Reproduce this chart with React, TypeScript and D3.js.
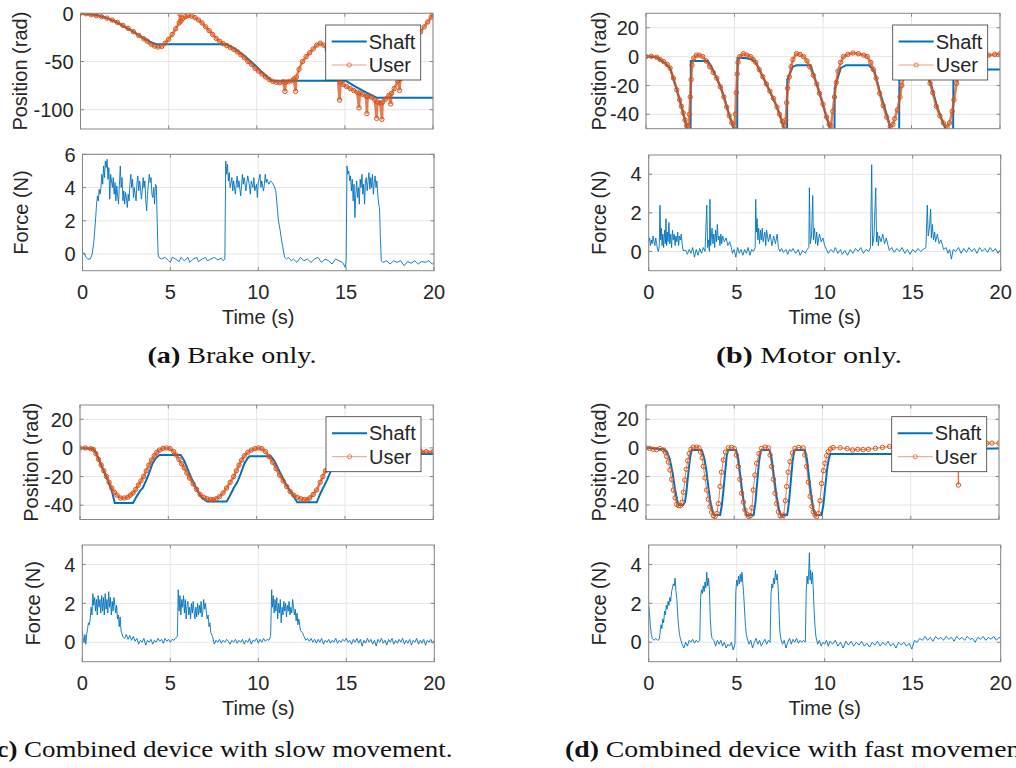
import React from 'react';
import * as d3 from 'd3';

type Pt = [number, number];

// ---- data ----
const TIME_TICKS = [0, 5, 10, 15, 20];
const POS_TICKS_A = [-100, -50, 0];
const POS_TICKS = [-40, -20, 0, 20];
const FORCE_TICKS_A = [0, 2, 4, 6];
const FORCE_TICKS = [0, 2, 4];
const LEGEND_LABELS = ['Shaft', 'User'];
const CAPTION_TAGS = ['(a)', '(b)', '(c)', '(d)'];
const CAPTION_TEXTS = [
  'Brake only.',
  'Motor only.',
  'Combined device with slow movement.',
  'Combined device with fast movement.',
];

// (a) Brake only
const posShaftA: Pt[] = [[0,0],[0.5,-1],[1,-2],[1.5,-5],[2,-9],[2.5,-14],[3,-19],[3.5,-25],[4,-30],[4.3,-32],[8.3,-32],[8.8,-37],[9.3,-44],[9.8,-52],[10.3,-61],[10.85,-70],[15.05,-70],[15.6,-76],[16.2,-82],[16.8,-87.5],[20,-87.5]];
const posUserA: Pt[] = [[0,0],[0.3,-0.5],[0.6,-1.5],[0.9,-2.5],[1.2,-3.5],[1.5,-5],[1.8,-7],[2.1,-9.5],[2.4,-12.5],[2.7,-15.5],[3.0,-19],[3.3,-23],[3.6,-26.5],[3.8,-29],[4.0,-32],[4.2,-34],[4.4,-35],[4.6,-34.5],[4.8,-31],[5.0,-27],[5.2,-22],[5.4,-16],[5.6,-10],[5.65,-1],[5.7,-8],[5.8,-5.5],[5.95,-3.5],[6.1,-2.5],[6.3,-3],[6.5,-4.5],[6.7,-7],[6.9,-10],[7.1,-14],[7.3,-18],[7.5,-22],[7.7,-26],[7.9,-29],[8.1,-31.5],[8.3,-33.5],[8.5,-35.5],[8.7,-37.5],[8.9,-40],[9.1,-43],[9.3,-46],[9.5,-50],[9.7,-53],[9.9,-57],[10.1,-60],[10.3,-63],[10.5,-66],[10.7,-68.5],[10.9,-70.5],[11.1,-71.5],[11.3,-72],[11.5,-71],[11.6,-81],[11.65,-71.5],[11.8,-71],[12.0,-70],[12.1,-68],[12.2,-81],[12.25,-66],[12.4,-58],[12.6,-50],[12.8,-45],[13.0,-41],[13.2,-37],[13.4,-33],[13.6,-31],[13.8,-33],[14.0,-38],[14.2,-48],[14.4,-58],[14.6,-67],[14.7,-90],[14.75,-71],[14.9,-74],[15.1,-76],[15.3,-78],[15.5,-80],[15.7,-82],[15.8,-98],[15.85,-83],[16.0,-84],[16.2,-86],[16.25,-104],[16.3,-86],[16.5,-87],[16.7,-90],[16.8,-109],[16.85,-92],[17.0,-93],[17.1,-110],[17.15,-92],[17.3,-89],[17.5,-85],[17.6,-94],[17.65,-83],[17.8,-78],[18.0,-70],[18.1,-80],[18.15,-68],[18.3,-60],[18.5,-50],[18.7,-41],[18.9,-32],[19.1,-25],[19.3,-19],[19.5,-14],[19.7,-9],[19.9,-4],[20,-2]];
const forceA: Pt[] = [[0,0.1],[0.1,0.05],[0.2,-0.2],[0.3,-0.3],[0.45,-0.3],[0.55,0],[0.65,0.8],[0.75,2.2],[0.8,3.0],[0.85,3.5],[0.9,3.2],[0.95,3.9],[1.0,3.6],[1.05,4.0],[1.1,4.8],[1.15,4.2],[1.2,5.3],[1.25,4.6],[1.3,5.6],[1.35,5.2],[1.4,5.7],[1.45,4.5],[1.5,5.2],[1.55,3.3],[1.6,4.8],[1.7,4.0],[1.75,4.6],[1.8,3.6],[1.85,4.3],[1.9,3.2],[1.95,4.1],[2.0,3.5],[2.05,3.0],[2.1,4.2],[2.15,5.3],[2.2,4.0],[2.25,4.6],[2.3,3.2],[2.35,3.8],[2.4,3.0],[2.45,3.7],[2.5,3.4],[2.55,2.8],[2.6,3.6],[2.65,3.2],[2.7,4.2],[2.75,4.8],[2.8,4.0],[2.85,4.5],[2.9,3.4],[2.95,4.0],[3.0,3.6],[3.05,3.2],[3.1,4.3],[3.15,4.7],[3.2,3.8],[3.25,4.4],[3.3,4.0],[3.35,3.3],[3.4,3.8],[3.45,4.6],[3.5,4.0],[3.55,4.4],[3.6,3.2],[3.65,2.6],[3.7,3.6],[3.75,4.2],[3.8,4.8],[3.85,4.3],[3.9,4.6],[3.95,3.6],[4.0,3.4],[4.05,4.0],[4.1,3.0],[4.15,4.2],[4.2,4.1],[4.25,2.0],[4.3,0.0],[4.35,-0.2],[4.5,-0.3],[4.7,-0.2],[4.9,-0.4],[5.0,-0.5],[5.1,-0.2],[5.3,-0.3],[5.5,-0.45],[5.6,-0.2],[5.8,-0.4],[6.0,-0.2],[6.1,-0.5],[6.3,-0.3],[6.5,-0.2],[6.6,-0.45],[6.8,-0.3],[7.0,-0.2],[7.1,-0.4],[7.3,-0.3],[7.5,-0.2],[7.7,-0.35],[7.9,-0.25],[8.0,-0.4],[8.1,-0.3],[8.15,5.6],[8.2,4.8],[8.25,5.4],[8.3,4.4],[8.35,4.9],[8.4,4.0],[8.5,4.6],[8.55,3.8],[8.6,4.4],[8.7,3.6],[8.75,4.2],[8.8,4.7],[8.85,4.0],[8.9,4.4],[9.0,3.5],[9.05,4.1],[9.1,4.8],[9.15,4.2],[9.2,4.6],[9.3,3.8],[9.35,4.3],[9.4,4.7],[9.5,4.1],[9.55,3.6],[9.6,4.4],[9.7,4.0],[9.75,4.6],[9.8,3.8],[9.9,4.2],[9.95,3.4],[10.0,4.3],[10.1,4.8],[10.15,4.0],[10.2,4.4],[10.3,3.8],[10.35,4.2],[10.4,4.8],[10.45,4.3],[10.5,4.5],[10.6,4.2],[10.7,4.4],[10.8,4.3],[10.9,4.1],[11.0,3.8],[11.05,3.2],[11.1,2.6],[11.15,2.0],[11.25,1.4],[11.3,1.0],[11.4,0.4],[11.5,-0.2],[11.6,-0.3],[11.7,-0.2],[11.9,-0.4],[12.0,-0.3],[12.2,-0.5],[12.4,-0.2],[12.6,-0.4],[12.8,-0.3],[13.0,-0.5],[13.2,-0.3],[13.4,-0.2],[13.6,-0.5],[13.8,-0.3],[14.0,-0.4],[14.2,-0.6],[14.4,-0.3],[14.6,-0.4],[14.8,-0.5],[14.95,-0.8],[15.0,-0.4],[15.05,5.3],[15.1,4.8],[15.15,5.0],[15.2,4.4],[15.25,4.7],[15.3,3.8],[15.35,4.5],[15.4,3.2],[15.45,4.2],[15.5,2.2],[15.55,3.6],[15.6,4.4],[15.65,3.4],[15.7,4.0],[15.75,3.0],[15.8,4.5],[15.85,4.0],[15.9,4.8],[15.95,3.6],[16.0,4.2],[16.05,3.0],[16.1,4.4],[16.15,4.6],[16.2,3.8],[16.25,4.4],[16.3,4.9],[16.35,3.9],[16.4,4.6],[16.45,4.0],[16.5,4.8],[16.55,3.6],[16.6,4.3],[16.65,4.7],[16.7,4.0],[16.75,4.4],[16.8,3.6],[16.85,3.0],[16.9,2.8],[16.95,1.0],[17.0,-0.4],[17.1,-0.5],[17.3,-0.4],[17.5,-0.6],[17.7,-0.4],[17.9,-0.5],[18.1,-0.4],[18.3,-0.7],[18.5,-0.45],[18.7,-0.55],[18.9,-0.4],[19.1,-0.6],[19.3,-0.45],[19.5,-0.5],[19.7,-0.4],[19.9,-0.6],[20,-0.5]];

// (b) Motor only
const posShaftB: Pt[] = [[0,0],[0.6,-0.5],[1.0,-4],[1.36,-8],[1.74,-23],[2.1,-39],[2.35,-52],[2.52,-55],[2.53,-3],[3.5,-3],[3.7,-7],[4.0,-15],[4.25,-22],[4.6,-36],[4.9,-48],[5.0,-55],[5.15,-55],[5.17,-1],[5.6,-1],[6.0,-2],[6.2,-4],[6.8,-19],[7.4,-35],[7.8,-50],[7.95,-55],[7.97,-55],[7.98,-16],[8.3,-7],[8.5,-6],[9.3,-6],[9.8,-25],[10.2,-42],[10.5,-55],[10.65,-55],[10.66,-22],[11.0,-8],[11.3,-6],[12.6,-6],[12.9,-10],[13.25,-26],[13.65,-42],[13.9,-55],[14.3,-55],[14.32,-5],[15.6,-5],[16.1,-19],[16.45,-35],[16.85,-48],[17.1,-55],[17.35,-55],[17.37,-9],[20,-9]];
const posUserB: Pt[] = [[0,0],[0.3,0.2],[0.6,-0.5],[0.8,-2],[1.0,-3.5],[1.2,-5.5],[1.36,-8],[1.55,-15],[1.74,-23],[1.9,-30],[2.0,-34.5],[2.1,-39],[2.2,-44],[2.3,-48],[2.4,-48],[2.45,-40],[2.5,-28],[2.55,-16],[2.6,-6],[2.7,-1],[2.85,1],[3.0,1],[3.2,0],[3.4,-3],[3.6,-7],[3.8,-11],[4.0,-15],[4.2,-21],[4.4,-28],[4.56,-35],[4.7,-41],[4.85,-46],[5.0,-48],[5.05,-40],[5.1,-25],[5.15,-12],[5.2,-4],[5.3,0],[5.5,2],[5.7,1],[5.9,0],[6.05,-2],[6.2,-4],[6.4,-9],[6.6,-14],[6.8,-19],[7.0,-24],[7.2,-29],[7.4,-35],[7.55,-40],[7.7,-45],[7.8,-48],[7.9,-44],[7.95,-32],[8.0,-22],[8.1,-14],[8.2,-7],[8.3,-2],[8.5,2],[8.7,1.5],[8.9,0],[9.1,-3],[9.25,-7],[9.45,-13],[9.65,-19],[9.8,-25.5],[10.0,-33],[10.2,-42],[10.35,-47],[10.45,-48],[10.55,-38],[10.65,-28],[10.75,-18],[10.85,-10],[11.0,-4],[11.15,0],[11.4,1.5],[11.7,2.5],[12.0,2],[12.3,1],[12.5,0],[12.7,-4],[12.85,-9],[13.0,-15],[13.2,-25.5],[13.4,-34],[13.6,-42],[13.8,-48.5],[13.95,-47],[14.05,-43],[14.2,-37],[14.35,-28],[14.45,-20],[14.6,-12],[14.8,-4],[15.0,0],[15.3,1],[15.6,-2],[15.8,-8],[15.95,-14],[16.05,-18.5],[16.2,-25],[16.4,-34.5],[16.6,-41],[16.8,-46],[17.0,-49],[17.15,-46],[17.3,-38],[17.4,-30],[17.55,-18.5],[17.7,-7],[17.85,-2],[18.1,0],[18.6,0.5],[19.0,1],[19.35,1],[19.7,1.5],[20,2]];
const forceB: Pt[] = [[0,0.5],[0.05,0.7],[0.1,0.3],[0.15,0.6],[0.2,0.4],[0.25,0.8],[0.3,0.5],[0.35,0.3],[0.4,0.7],[0.45,0.4],[0.5,0.1],[0.55,0.0],[0.6,0.3],[0.64,2.4],[0.68,0.6],[0.72,1.2],[0.76,0.3],[0.8,0.9],[0.85,0.2],[0.9,1.1],[0.95,0.4],[0.98,1.7],[1.02,0.3],[1.06,1.0],[1.1,0.5],[1.15,1.5],[1.2,0.4],[1.25,0.9],[1.3,0.2],[1.35,1.1],[1.4,0.6],[1.45,0.9],[1.5,0.3],[1.55,0.8],[1.6,0.5],[1.65,1.0],[1.7,0.3],[1.75,0.8],[1.8,0.6],[1.85,0.9],[1.9,0.4],[1.95,0.05],[2.1,0.05],[2.2,-0.15],[2.3,0.1],[2.4,-0.1],[2.5,0.2],[2.6,-0.3],[2.7,0.1],[2.8,-0.2],[2.9,0.15],[3.0,-0.1],[3.1,0.2],[3.2,0.0],[3.3,2.4],[3.35,0.2],[3.4,0.6],[3.45,0.0],[3.48,2.7],[3.52,0.3],[3.6,1.2],[3.65,0.4],[3.7,0.9],[3.75,0.2],[3.8,1.1],[3.85,0.5],[3.9,1.4],[3.95,0.6],[4.0,0.8],[4.05,0.3],[4.1,0.9],[4.15,0.4],[4.2,0.8],[4.3,0.5],[4.4,0.7],[4.5,0.3],[4.6,0.5],[4.7,0.2],[4.75,-0.1],[4.85,0.1],[4.95,-0.3],[5.05,0.2],[5.15,-0.1],[5.25,0.1],[5.35,-0.2],[5.45,0.1],[5.55,-0.1],[5.65,0.2],[5.75,-0.2],[5.85,0.1],[5.95,0.0],[6.05,0.2],[6.08,2.7],[6.12,1.0],[6.16,1.7],[6.2,0.6],[6.25,1.2],[6.3,0.4],[6.35,1.1],[6.4,0.6],[6.45,1.2],[6.5,0.5],[6.6,1.0],[6.65,0.3],[6.7,1.1],[6.8,0.5],[6.9,0.9],[7.0,0.3],[7.1,0.8],[7.2,0.4],[7.3,0.9],[7.37,0.2],[7.45,0.0],[7.55,0.15],[7.65,-0.05],[7.8,0.1],[7.9,-0.15],[8.0,0.1],[8.1,0.0],[8.2,0.15],[8.35,-0.1],[8.5,0.1],[8.6,-0.2],[8.75,0.05],[8.9,-0.1],[9.0,0.1],[9.1,0.2],[9.13,3.3],[9.18,0.4],[9.25,0.8],[9.32,2.9],[9.36,0.6],[9.42,1.2],[9.48,0.4],[9.55,1.0],[9.6,0.3],[9.7,0.9],[9.8,0.5],[9.9,0.7],[10.0,0.3],[10.1,0.1],[10.2,-0.1],[10.35,0.1],[10.5,-0.05],[10.6,0.2],[10.75,-0.1],[10.9,0.1],[11.0,-0.15],[11.15,0.05],[11.3,-0.2],[11.45,0.1],[11.6,-0.1],[11.75,0.15],[11.9,0.0],[12.05,0.2],[12.2,-0.1],[12.35,0.1],[12.5,0.0],[12.6,0.2],[12.67,4.5],[12.72,0.3],[12.8,0.8],[12.9,3.3],[12.95,0.5],[13.0,1.0],[13.05,0.3],[13.1,0.8],[13.2,0.5],[13.3,0.9],[13.4,0.4],[13.5,0.7],[13.6,0.3],[13.67,0.05],[13.8,0.2],[13.95,-0.05],[14.1,0.15],[14.25,0.0],[14.4,0.2],[14.55,-0.1],[14.7,0.1],[14.85,-0.15],[15.0,0.1],[15.15,-0.05],[15.3,0.15],[15.45,0.0],[15.6,0.1],[15.75,0.2],[15.83,2.4],[15.88,0.8],[15.95,1.2],[16.02,2.2],[16.06,0.7],[16.12,1.4],[16.18,0.6],[16.25,1.0],[16.3,0.5],[16.4,0.9],[16.5,0.4],[16.6,0.6],[16.7,0.3],[16.75,0.1],[16.9,0.2],[17.0,-0.1],[17.1,0.1],[17.2,-0.4],[17.3,0.1],[17.45,0.0],[17.6,0.2],[17.75,-0.1],[17.9,0.15],[18.05,-0.05],[18.2,0.2],[18.35,0.0],[18.5,0.15],[18.65,-0.1],[18.8,0.2],[18.95,0.0],[19.1,0.15],[19.25,-0.05],[19.4,0.2],[19.55,0.0],[19.7,0.15],[19.85,-0.1],[20,0.1]];

// (c) Combined, slow movement
const posShaftC: Pt[] = [[0,0],[0.75,-0.5],[0.9,-3],[1.2,-12],[1.5,-20.5],[1.8,-30],[1.97,-38.5],[3.0,-38.5],[3.2,-34],[3.4,-30],[3.55,-28],[3.7,-24],[3.9,-18],[4.1,-11],[4.3,-7],[4.5,-4.9],[5.7,-4.9],[5.9,-9],[6.1,-15],[6.3,-21],[6.5,-26],[6.7,-31],[6.9,-35],[7.2,-37.5],[8.3,-37.5],[8.5,-33],[8.7,-28],[8.9,-24],[9.1,-18],[9.3,-11],[9.5,-7],[9.6,-5.8],[10.8,-5.8],[11.0,-9],[11.2,-14],[11.4,-19],[11.6,-24],[11.8,-28],[12.0,-32],[12.3,-38],[13.4,-38],[13.6,-32],[13.8,-27],[14.0,-22],[14.2,-16],[14.4,-11],[14.6,-7],[14.9,-4.2],[20,-4.2]];
const posUserC: Pt[] = [[0,0],[0.3,0],[0.6,-0.5],[0.75,-1],[0.9,-4],[1.05,-8],[1.2,-12],[1.35,-16],[1.5,-20],[1.65,-24],[1.8,-28],[1.95,-31],[2.1,-33],[2.3,-35],[2.5,-35],[2.7,-34.5],[2.85,-33],[3.0,-31.5],[3.15,-29],[3.3,-26],[3.45,-23],[3.6,-20],[3.75,-16],[3.9,-12],[4.05,-8.5],[4.2,-5.5],[4.35,-3],[4.5,-1.5],[4.7,-0.3],[4.9,0],[5.1,-0.5],[5.3,-2.5],[5.45,-5],[5.6,-8],[5.75,-11],[5.9,-14],[6.05,-17.5],[6.2,-21],[6.4,-25],[6.6,-29],[6.8,-32.5],[7.0,-34.5],[7.2,-35.5],[7.4,-36],[7.55,-36.3],[7.7,-35.5],[7.9,-34],[8.1,-31.5],[8.3,-28],[8.5,-24],[8.7,-20],[8.85,-16],[9.0,-12],[9.15,-8.5],[9.3,-5.5],[9.5,-3],[9.7,-1.5],[9.9,-0.5],[10.1,0],[10.3,-0.5],[10.5,-2.5],[10.7,-6],[10.9,-10],[11.1,-14.5],[11.3,-19],[11.5,-23],[11.7,-27],[11.9,-30.5],[12.1,-33],[12.3,-34.5],[12.5,-35.5],[12.7,-36],[12.85,-36.3],[13.0,-35],[13.2,-32.5],[13.4,-29.4],[13.6,-24],[13.75,-20],[13.9,-16],[14.1,-11],[14.3,-7],[14.5,-4.5],[14.8,-3],[15.2,-2.5],[16,-2.5],[17,-2.8],[18,-2.5],[19,-2.8],[19.3,-2.6],[19.6,-2.6],[20,-2.6]];
const forceC: Pt[] = [[0,0.6],[0.05,0.2],[0.1,0.0],[0.15,0.4],[0.2,-0.1],[0.25,0.4],[0.3,0.7],[0.35,1.0],[0.4,0.9],[0.45,1.2],[0.5,1.8],[0.55,1.4],[0.6,2.5],[0.65,1.9],[0.7,2.3],[0.75,1.6],[0.8,2.2],[0.85,1.4],[0.9,2.4],[0.95,1.8],[1.0,2.2],[1.05,1.5],[1.1,2.4],[1.15,1.6],[1.2,2.3],[1.25,1.4],[1.3,2.5],[1.35,1.7],[1.4,2.2],[1.45,1.5],[1.5,2.6],[1.55,1.8],[1.6,2.3],[1.65,1.4],[1.7,2.1],[1.75,1.6],[1.8,2.3],[1.85,1.9],[1.9,1.5],[1.95,1.9],[2.0,1.2],[2.05,1.4],[2.1,0.8],[2.15,1.3],[2.2,0.6],[2.3,0.3],[2.4,0.2],[2.5,0.4],[2.6,0.15],[2.7,0.35],[2.8,0.1],[2.9,0.3],[3.0,0.05],[3.1,0.2],[3.2,-0.1],[3.3,0.1],[3.4,0.0],[3.5,0.2],[3.6,-0.15],[3.7,0.1],[3.8,0.0],[3.9,0.15],[4.0,-0.1],[4.1,0.1],[4.2,0.0],[4.3,0.2],[4.4,0.05],[4.5,0.15],[4.6,-0.05],[4.7,0.2],[4.8,0.05],[4.9,0.15],[5.0,0.0],[5.1,0.15],[5.2,0.1],[5.3,0.2],[5.4,0.3],[5.45,2.7],[5.5,1.6],[5.55,2.4],[5.6,1.4],[5.65,2.2],[5.7,1.8],[5.75,2.4],[5.8,1.5],[5.85,2.2],[5.9,1.2],[5.95,1.9],[6.0,2.1],[6.05,1.4],[6.1,1.8],[6.15,1.2],[6.2,2.0],[6.25,1.5],[6.3,2.1],[6.35,1.6],[6.4,1.2],[6.45,1.8],[6.5,1.3],[6.55,2.0],[6.6,1.4],[6.65,1.9],[6.7,1.5],[6.75,2.1],[6.8,1.3],[6.85,1.6],[6.9,2.2],[6.95,1.7],[7.0,2.0],[7.05,1.5],[7.1,1.2],[7.15,1.4],[7.2,0.8],[7.25,1.0],[7.3,0.5],[7.4,0.3],[7.5,-0.1],[7.6,0.1],[7.7,0.0],[7.8,0.15],[7.9,-0.05],[8.0,0.1],[8.1,0.0],[8.2,0.15],[8.3,0.05],[8.4,-0.1],[8.5,0.1],[8.6,0.0],[8.7,0.15],[8.8,-0.05],[8.9,0.1],[9.0,0.0],[9.1,0.15],[9.2,-0.1],[9.3,0.1],[9.4,0.0],[9.5,0.2],[9.6,-0.1],[9.7,0.1],[9.8,0.05],[9.9,0.2],[10.0,-0.05],[10.1,0.15],[10.2,0.0],[10.3,0.2],[10.4,0.05],[10.5,0.15],[10.6,0.1],[10.7,0.3],[10.76,2.7],[10.8,1.8],[10.85,2.4],[10.9,1.5],[10.95,2.2],[11.0,1.6],[11.05,2.3],[11.1,1.2],[11.15,2.0],[11.2,1.5],[11.25,2.2],[11.3,1.0],[11.35,1.8],[11.4,1.4],[11.45,2.1],[11.5,1.6],[11.55,2.0],[11.6,1.3],[11.65,1.9],[11.7,1.6],[11.75,2.1],[11.8,1.4],[11.85,1.8],[11.9,1.5],[11.95,2.2],[12.0,1.8],[12.05,1.4],[12.1,1.7],[12.15,1.1],[12.2,1.5],[12.25,0.9],[12.3,1.2],[12.4,0.6],[12.5,0.5],[12.6,0.3],[12.7,0.1],[12.8,0.2],[12.9,0.05],[13.0,0.2],[13.1,0.0],[13.2,0.15],[13.3,-0.05],[13.4,0.15],[13.5,0.0],[13.6,0.2],[13.7,-0.1],[13.8,0.1],[13.9,0.0],[14.0,0.15],[14.1,-0.05],[14.2,0.1],[14.3,0.0],[14.4,0.2],[14.5,-0.05],[14.6,0.1],[14.7,0.0],[14.8,0.15],[14.9,0.05],[15.0,0.2],[15.1,0.0],[15.2,0.1],[15.3,-0.1],[15.4,0.15],[15.5,0.0],[15.6,0.2],[15.7,-0.05],[15.8,0.15],[15.9,-0.2],[16.0,0.1],[16.1,-0.05],[16.2,0.2],[16.3,0.0],[16.4,0.15],[16.5,-0.1],[16.6,0.1],[16.7,-0.2],[16.8,0.15],[16.9,0.0],[17.0,0.2],[17.1,-0.05],[17.2,0.1],[17.3,-0.15],[17.4,0.15],[17.5,0.0],[17.6,0.2],[17.7,-0.1],[17.8,0.1],[17.9,-0.05],[18.0,0.15],[18.1,0.0],[18.2,0.2],[18.3,-0.1],[18.4,0.1],[18.5,-0.05],[18.6,0.15],[18.7,-0.15],[18.8,0.1],[18.9,0.0],[19.0,0.2],[19.1,-0.1],[19.2,0.1],[19.3,-0.05],[19.4,0.15],[19.5,-0.15],[19.6,0.1],[19.7,0.0],[19.8,0.15],[19.9,-0.05],[20,0.1]];

// (d) Combined, fast movement
const posShaftD: Pt[] = [[0,0],[0.5,-0.5],[1.0,-1],[1.2,-3],[1.35,-8],[1.5,-17],[1.62,-27],[1.75,-36],[1.85,-40],[2.1,-40],[2.2,-38],[2.28,-32],[2.36,-22],[2.45,-12],[2.52,-5],[2.6,-1.5],[3.15,-1.5],[3.3,-7],[3.42,-16],[3.55,-29],[3.68,-40],[3.8,-46],[3.9,-47],[4.2,-47],[4.3,-40],[4.4,-28],[4.5,-15],[4.58,-5],[4.66,-1.5],[5.1,-1.5],[5.22,-7],[5.35,-20],[5.48,-33],[5.6,-43],[5.7,-47],[6.1,-47],[6.2,-38],[6.3,-24],[6.4,-10],[6.5,-2],[6.6,-1.5],[7.0,-1.5],[7.1,-6],[7.25,-20],[7.4,-34],[7.55,-44],[7.65,-47],[8.0,-47],[8.1,-38],[8.2,-24],[8.3,-10],[8.4,-2],[8.5,-1.5],[9.0,-1.5],[9.12,-8],[9.25,-22],[9.38,-35],[9.5,-44],[9.6,-47],[9.95,-47],[10.05,-40],[10.15,-28],[10.25,-16],[10.35,-8],[10.45,-4.3],[14.5,-4.3],[15.0,-1],[20,-0.5]];
const posUserD: Pt[] = [[0,0],[0.2,-0.3],[0.4,-1],[0.6,-1.2],[0.8,-0.5],[1.0,-1.5],[1.1,-3],[1.17,-6],[1.27,-10],[1.36,-15.5],[1.45,-22],[1.55,-29.5],[1.65,-35],[1.74,-39.5],[1.85,-40.5],[1.95,-40.5],[2.05,-38],[2.12,-31],[2.2,-22.5],[2.28,-15],[2.36,-9],[2.45,-4],[2.55,-1],[2.68,0.5],[2.85,0.5],[3.0,0],[3.1,-3],[3.18,-7],[3.25,-13],[3.34,-21],[3.44,-29.5],[3.53,-36],[3.63,-41.2],[3.72,-45],[3.82,-47.5],[3.92,-48],[4.02,-46],[4.1,-39],[4.2,-27],[4.28,-17],[4.38,-8.5],[4.5,-3],[4.66,0],[4.85,0.3],[5.0,-0.5],[5.12,-5],[5.23,-13],[5.32,-22],[5.42,-31.8],[5.52,-38],[5.61,-43.5],[5.72,-46.5],[5.82,-48],[5.92,-47.5],[6.0,-42],[6.08,-29.5],[6.17,-19],[6.27,-10.8],[6.4,-4],[6.55,-0.3],[6.75,0.5],[6.93,0],[7.03,-5],[7.12,-13],[7.22,-22],[7.31,-31.8],[7.4,-39],[7.5,-44.7],[7.6,-47.5],[7.7,-49.4],[7.8,-47],[7.9,-37],[7.97,-27],[8.06,-17],[8.16,-9.7],[8.3,-3.5],[8.44,-0.3],[8.65,0.3],[8.9,0],[9.0,-5],[9.1,-13],[9.2,-24],[9.3,-34],[9.4,-41],[9.48,-44.7],[9.58,-47],[9.67,-48],[9.77,-46],[9.86,-37],[9.95,-25],[10.05,-16],[10.14,-10.8],[10.24,-5.5],[10.33,-2.6],[10.45,-0.8],[10.6,0.2],[11.0,0],[11.4,-0.5],[11.7,-1.5],[12.0,-1],[12.3,-1.2],[12.6,-1],[13.0,-0.3],[13.4,0.3],[13.8,1],[14.5,1.5],[15.5,2],[16.5,2.5],[17.5,3],[17.65,3],[17.7,-26],[17.75,3],[18.2,3.2],[18.8,3.3],[19.3,3.3],[19.6,3.3],[20,3.3]];
const forceD: Pt[] = [[0,1.9],[0.05,1.4],[0.1,0.8],[0.15,0.4],[0.2,0.2],[0.3,0.1],[0.4,0.2],[0.5,0.1],[0.6,0.15],[0.65,0.5],[0.7,0.9],[0.75,0.7],[0.8,1.2],[0.85,1.0],[0.9,1.6],[0.95,1.4],[1.0,1.9],[1.05,1.7],[1.1,2.1],[1.15,1.9],[1.2,2.3],[1.25,2.1],[1.3,2.6],[1.35,2.8],[1.4,3.0],[1.45,2.9],[1.5,3.3],[1.55,2.6],[1.6,2.2],[1.65,1.4],[1.7,0.8],[1.75,0.4],[1.8,0.2],[1.9,-0.1],[2.0,-0.3],[2.1,0.0],[2.2,-0.2],[2.3,0.1],[2.4,0.0],[2.5,0.15],[2.6,-0.05],[2.7,0.1],[2.8,0.0],[2.9,0.1],[2.95,2.3],[3.0,2.7],[3.05,2.5],[3.1,2.9],[3.15,2.6],[3.2,3.1],[3.25,2.8],[3.3,3.6],[3.35,2.9],[3.4,3.3],[3.45,2.7],[3.5,1.2],[3.55,0.5],[3.6,0.2],[3.7,0.1],[3.8,-0.2],[3.9,0.1],[4.0,-0.1],[4.1,0.1],[4.2,-0.2],[4.3,0.0],[4.4,-0.3],[4.5,-0.1],[4.6,-0.2],[4.7,0.0],[4.8,-0.4],[4.9,-0.1],[4.95,2.6],[5.0,3.2],[5.05,2.9],[5.1,3.4],[5.15,3.0],[5.2,3.5],[5.25,3.1],[5.3,3.6],[5.35,3.0],[5.4,2.4],[5.45,1.6],[5.5,0.8],[5.55,0.4],[5.6,0.2],[5.7,-0.1],[5.8,0.1],[5.9,-0.3],[6.0,0.0],[6.1,0.2],[6.2,-0.1],[6.3,0.1],[6.4,-0.2],[6.5,0.0],[6.6,0.15],[6.7,-0.1],[6.8,0.1],[6.9,0.0],[6.95,2.5],[7.0,3.0],[7.05,2.8],[7.1,3.3],[7.15,3.0],[7.2,3.7],[7.25,3.2],[7.3,3.5],[7.35,2.9],[7.4,1.8],[7.45,0.6],[7.5,0.2],[7.6,-0.1],[7.7,0.1],[7.8,-0.3],[7.9,0.0],[8.0,0.2],[8.1,-0.1],[8.2,0.15],[8.3,0.0],[8.4,0.2],[8.5,-0.05],[8.6,0.1],[8.7,0.0],[8.8,0.1],[8.9,0.0],[8.95,2.6],[9.0,3.4],[9.05,3.0],[9.1,3.8],[9.13,4.6],[9.17,3.2],[9.2,3.7],[9.25,3.0],[9.3,3.6],[9.35,2.8],[9.4,1.6],[9.45,0.8],[9.5,0.3],[9.6,-0.1],[9.7,0.1],[9.8,-0.2],[9.9,0.0],[10.0,-0.1],[10.1,0.1],[10.2,-0.2],[10.3,0.05],[10.45,-0.1],[10.6,0.1],[10.75,-0.2],[10.9,0.0],[11.05,-0.3],[11.2,0.05],[11.35,-0.15],[11.5,0.05],[11.65,-0.2],[11.8,0.0],[11.95,-0.15],[12.1,0.05],[12.25,-0.2],[12.4,-0.05],[12.55,-0.25],[12.7,0.0],[12.85,-0.15],[13.0,0.05],[13.15,-0.2],[13.3,0.0],[13.45,-0.15],[13.6,0.05],[13.75,-0.2],[13.9,-0.05],[14.05,-0.3],[14.2,0.0],[14.35,-0.15],[14.5,0.0],[14.65,-0.2],[14.8,-0.05],[14.95,-0.35],[15.1,0.1],[15.25,0.0],[15.4,0.2],[15.55,0.1],[15.7,0.3],[15.85,0.1],[16.0,0.25],[16.15,0.05],[16.3,0.3],[16.45,0.15],[16.6,0.25],[16.75,0.1],[16.9,0.3],[17.05,0.15],[17.2,0.25],[17.35,0.05],[17.5,0.3],[17.65,0.15],[17.8,0.25],[17.95,0.1],[18.1,0.3],[18.25,0.15],[18.4,0.2],[18.55,0.0],[18.7,0.25],[18.85,0.15],[19.0,0.3],[19.15,0.1],[19.3,0.25],[19.45,0.15],[19.6,0.3],[19.75,0.1],[19.9,0.25],[20,0.2]];

// ---- style ----
const BLUE = '#0072BD';
const ORANGE = '#D95319';
const AXIS = '#868686';
const GRID = '#e6e6e6';
const TEXT = '#262626';
const SANS = '"Liberation Sans", Arial, Helvetica, sans-serif';
const SERIF = '"Liberation Serif", "Times New Roman", serif';
const FS = 20;

type Box = { x0: number; x1: number; y0: number; y1: number };

type AxesProps = {
  id: string;
  box: Box;
  yDomain: [number, number];
  yTicks: number[];
  ylabel: string;
  labelX: number;
  xLabels?: boolean;
  shaft?: Pt[];
  user?: Pt[];
  userWidth?: number;
  force?: Pt[];
};

function Axes(p: AxesProps) {
  const { box } = p;
  const x = d3.scaleLinear().domain([0, 20]).range([box.x0, box.x1]);
  const y = d3.scaleLinear().domain(p.yDomain).range([box.y1, box.y0]);
  const line = d3.line<Pt>().x((d) => x(d[0])).y((d) => y(d[1]));
  const w = box.x1 - box.x0;
  const h = box.y1 - box.y0;
  const tl = 3.5;

  // legend sits in the top-right corner, inside the axes
  const lg = { w: 95, h: 55 };
  const lx = box.x1 - 12.3 - lg.w;
  const ly = box.y0 + 11.7;

  return (
    <g>
      <defs>
        <clipPath id={p.id}>
          <rect x={box.x0} y={box.y0} width={w} height={h} />
        </clipPath>
      </defs>
      <rect x={box.x0} y={box.y0} width={w} height={h} fill="#fff" />

      {/* grid */}
      {TIME_TICKS.map((t) => (
        <line key={'gx' + t} x1={x(t)} x2={x(t)} y1={box.y0} y2={box.y1} stroke={GRID} />
      ))}
      {p.yTicks.map((v) => (
        <line key={'gy' + v} x1={box.x0} x2={box.x1} y1={y(v)} y2={y(v)} stroke={GRID} />
      ))}

      {/* data */}
      <g clipPath={`url(#${p.id})`}>
        {p.force && (
          <path d={line(p.force) || ''} fill="none" stroke={BLUE} strokeWidth={0.9} />
        )}
        {p.shaft && (
          <path d={line(p.shaft) || ''} fill="none" stroke={BLUE} strokeWidth={2} />
        )}
        {p.user && (
          <g>
            <path
              d={line(p.user) || ''}
              fill="none"
              stroke={ORANGE}
              strokeOpacity={0.75}
              strokeWidth={p.userWidth || 1}
            />
            {p.user.map((d, i) => (
              <circle
                key={i}
                cx={x(d[0])}
                cy={y(d[1])}
                r={2.2}
                fill="none"
                stroke={ORANGE}
                strokeWidth={1}
              />
            ))}
          </g>
        )}
      </g>

      {/* ticks (inside, mirrored) */}
      {TIME_TICKS.map((t) => (
        <g key={'tx' + t} stroke={AXIS}>
          <line x1={x(t)} x2={x(t)} y1={box.y1} y2={box.y1 - tl} />
          <line x1={x(t)} x2={x(t)} y1={box.y0} y2={box.y0 + tl} />
        </g>
      ))}
      {p.yTicks.map((v) => (
        <g key={'ty' + v} stroke={AXIS}>
          <line x1={box.x0} x2={box.x0 + tl} y1={y(v)} y2={y(v)} />
          <line x1={box.x1} x2={box.x1 - tl} y1={y(v)} y2={y(v)} />
        </g>
      ))}
      <rect x={box.x0} y={box.y0} width={w} height={h} fill="none" stroke={AXIS} strokeWidth={1} />

      {/* tick labels */}
      {p.yTicks.map((v) => (
        <text
          key={'ly' + v}
          x={box.x0 - 7}
          y={y(v)}
          dy="0.36em"
          textAnchor="end"
          fontFamily={SANS}
          fontSize={FS}
          fill={TEXT}
        >
          {v}
        </text>
      ))}
      {p.xLabels &&
        TIME_TICKS.map((t) => (
          <text
            key={'lx' + t}
            x={x(t)}
            y={box.y1 + 28}
            textAnchor="middle"
            fontFamily={SANS}
            fontSize={FS}
            fill={TEXT}
          >
            {t}
          </text>
        ))}
      {p.xLabels && (
        <text
          x={(box.x0 + box.x1) / 2}
          y={box.y1 + 53}
          textAnchor="middle"
          fontFamily={SANS}
          fontSize={FS}
          fill={TEXT}
        >
          Time (s)
        </text>
      )}
      <text
        transform={`translate(${p.labelX},${(box.y0 + box.y1) / 2}) rotate(-90)`}
        dy="0.36em"
        textAnchor="middle"
        fontFamily={SANS}
        fontSize={FS}
        fill={TEXT}
      >
        {p.ylabel}
      </text>

      {/* legend */}
      {p.shaft && (
        <g>
          <rect x={lx} y={ly} width={lg.w} height={lg.h} fill="#fff" stroke="#3a3a3a" strokeWidth={0.8} />
          <line x1={lx + 6} x2={lx + 41} y1={ly + 16.5} y2={ly + 16.5} stroke={BLUE} strokeWidth={2} />
          <line x1={lx + 6} x2={lx + 41} y1={ly + 40} y2={ly + 40} stroke={ORANGE} strokeOpacity={0.55} strokeWidth={1} />
          <circle cx={lx + 23.5} cy={ly + 40} r={2.1} fill="none" stroke={ORANGE} strokeOpacity={0.7} />
          {LEGEND_LABELS.map((s, i) => (
            <text
              key={s}
              x={lx + 43}
              y={ly + 16.5 + i * 23.5}
              dy="0.36em"
              fontFamily={SANS}
              fontSize={FS}
              fill={TEXT}
            >
              {s}
            </text>
          ))}
        </g>
      )}
    </g>
  );
}

function Caption({ x, y, i, width }: { x: number; y: number; i: number; width: number }) {
  return (
    <text
      x={x}
      y={y}
      textAnchor="middle"
      fontFamily={SERIF}
      fontSize={24}
      fill="#111"
      textLength={width}
      lengthAdjust="spacingAndGlyphs"
    >
      <tspan fontWeight="bold">{CAPTION_TAGS[i]}</tspan> {CAPTION_TEXTS[i]}
    </text>
  );
}

export default function App() {
  return (
    <svg
      width={1016}
      height={768}
      style={{ position: 'absolute', left: 0, top: 0, background: '#fff' }}
    >
      {/* (a) */}
      <Axes id="pa" box={{ x0: 80.5, x1: 433, y0: 13.3, y1: 129 }} yDomain={[-120, 0]} yTicks={POS_TICKS_A}
        ylabel="Position (rad)" labelX={20} shaft={posShaftA} user={posUserA} userWidth={2.5} />
      <Axes id="fa" box={{ x0: 82.5, x1: 434, y0: 154.3, y1: 270.7 }} yDomain={[-1, 6]} yTicks={FORCE_TICKS_A}
        ylabel="Force (N)" labelX={21} xLabels force={forceA} />

      {/* (b) */}
      <Axes id="pb" box={{ x0: 646, x1: 1000, y0: 13.3, y1: 128.7 }} yDomain={[-50, 30]} yTicks={POS_TICKS}
        ylabel="Position (rad)" labelX={598.5} shaft={posShaftB} user={posUserB} userWidth={2.5} />
      <Axes id="fb" box={{ x0: 648.7, x1: 1000.7, y0: 155, y1: 270.7 }} yDomain={[-1, 5]} yTicks={FORCE_TICKS}
        ylabel="Force (N)" labelX={599} xLabels force={forceB} />

      {/* (c) */}
      <Axes id="pc" box={{ x0: 80, x1: 433.3, y0: 405, y1: 519.5 }} yDomain={[-50, 30]} yTicks={POS_TICKS}
        ylabel="Position (rad)" labelX={31} shaft={posShaftC} user={posUserC} userWidth={2.5} />
      <Axes id="fc" box={{ x0: 82.3, x1: 434.3, y0: 545, y1: 661.7 }} yDomain={[-1, 5]} yTicks={FORCE_TICKS}
        ylabel="Force (N)" labelX={33} xLabels force={forceC} />

      {/* (d) */}
      <Axes id="pd" box={{ x0: 646, x1: 999, y0: 405, y1: 519.3 }} yDomain={[-50, 30]} yTicks={POS_TICKS}
        ylabel="Position (rad)" labelX={598.5} shaft={posShaftD} user={posUserD} userWidth={1} />
      <Axes id="fd" box={{ x0: 648.7, x1: 1000.7, y0: 545, y1: 661.7 }} yDomain={[-1, 5]} yTicks={FORCE_TICKS}
        ylabel="Force (N)" labelX={599} xLabels force={forceD} />

      <Caption i={0} x={232} y={363} width={169} />
      <Caption i={1} x={809} y={363} width={186} />
      <Caption i={2} x={220} y={757} width={465} />
      <Caption i={3} x={800} y={757} width={470} />
    </svg>
  );
}
